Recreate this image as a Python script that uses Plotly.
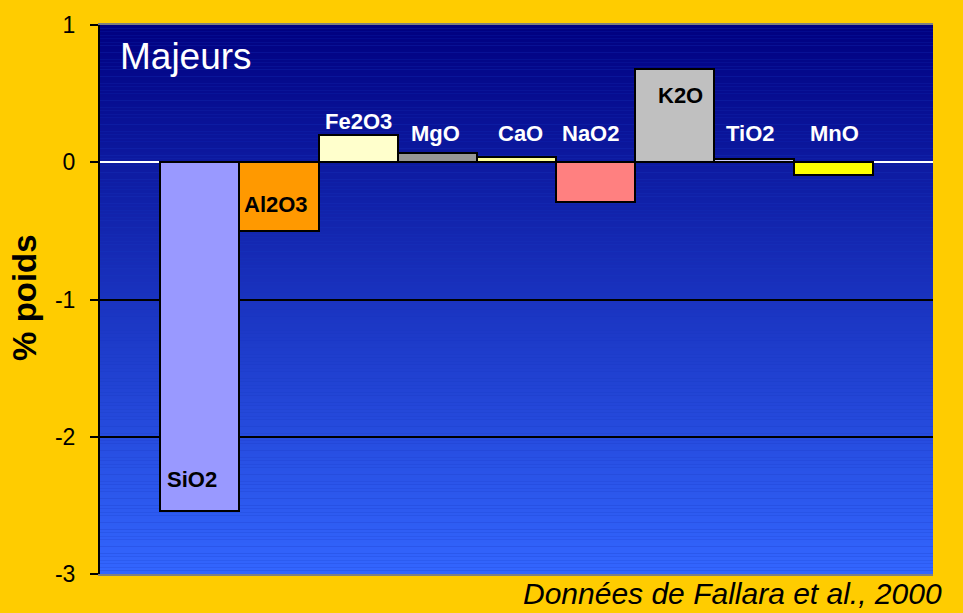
import plotly.graph_objects as go

# oxides (bar order) and change in weight percent
oxides = ["SiO2", "Al2O3", "Fe2O3", "MgO", "CaO", "NaO2", "K2O", "TiO2", "MnO"]
delta_wt = [-2.54, -0.50, 0.20, 0.065, 0.035, -0.29, 0.68, 0.022, -0.09]
bar_colors = ["#9999FF", "#FF9900", "#FFFFCC", "#969696", "#FFFF99",
              "#FF8080", "#C0C0C0", "#CCCCFF", "#FFFF00"]

y_ticks = [1, 0, -1, -2, -3]
y_tick_text = ["1", "0", "-1", "-2", "-3"]

# label placement (layout only): y position and text colour for each bar
label_y = [-2.31, -0.31, 0.30, 0.21, 0.21, 0.21, 0.49, 0.21, 0.21]
label_color = ["black", "black", "white", "white", "white",
               "white", "black", "white", "white"]
label_shift = [-8, -3, 0, -2, 4, -5, 6, -4, 1]

FONT = "Arial, Liberation Sans, sans-serif"

fig = go.Figure()
fig.add_trace(go.Bar(
    x=list(range(len(oxides))),
    y=delta_wt,
    marker=dict(color=bar_colors, line=dict(color="black", width=2)),
    width=1,
    hoverinfo="skip",
))

# gradient plot background: navy at top, bright blue at bottom
top = (0, 0, 128)
bottom = (51, 102, 255)
n_steps = 160
shapes = []
for i in range(n_steps):
    t = (i + 0.5) / n_steps
    c = tuple(round(top[k] + (bottom[k] - top[k]) * t) for k in range(3))
    shapes.append(dict(
        type="rect", xref="x domain", yref="y domain",
        x0=0, x1=1, y0=1 - (i + 1) / n_steps, y1=1 - i / n_steps,
        fillcolor="rgb(%d,%d,%d)" % c, line=dict(width=0), layer="below",
    ))

annotations = []
for i, name in enumerate(oxides):
    annotations.append(dict(
        x=i, y=label_y[i], xref="x", yref="y", text="<b>%s</b>" % name,
        showarrow=False, xshift=label_shift[i],
        font=dict(family=FONT, size=22, color=label_color[i]),
    ))

annotations += [
    dict(text="Majeurs", xref="x domain", yref="y domain", x=0.022, y=0.942,
         xanchor="left", yanchor="middle", showarrow=False,
         font=dict(family=FONT, size=37, color="white")),
    dict(text="<b>% poids</b>", xref="paper", yref="paper", x=-0.09, y=0.503,
         xanchor="center", yanchor="middle", textangle=-90, showarrow=False,
         font=dict(family=FONT, size=33, color="black")),
    dict(text="<i>Données de Fallara et al., 2000</i>", xref="paper", yref="paper",
         x=0.505, y=-0.036, xanchor="left", yanchor="middle", showarrow=False,
         font=dict(family=FONT, size=30, color="black")),
]

fig.update_layout(
    width=963, height=613,
    margin=dict(l=100, r=30, t=21, b=39),
    paper_bgcolor="#FFCC00",
    plot_bgcolor="#1A3AC0",
    bargap=0,
    showlegend=False,
    shapes=shapes,
    annotations=annotations,
    xaxis=dict(
        range=[-1.26, 9.26], showticklabels=False, ticks="", showgrid=False,
        zeroline=False, showline=True, linecolor="#808080", linewidth=2, mirror=True,
    ),
    yaxis=dict(
        range=[-3, 1], tickvals=y_ticks, ticktext=y_tick_text,
        ticks="outside", ticklen=8, tickwidth=2,
        tickcolor="black", ticklabelstandoff=10,
        tickfont=dict(family=FONT, size=23, color="black"),
        showgrid=True, gridcolor="black", gridwidth=1.5,
        zeroline=True, zerolinecolor="white", zerolinewidth=2,
        showline=True, linecolor="black", linewidth=2,
    ),
)

fig.write_html(
    "out.html",
    config={"displayModeBar": False},
    post_script="document.body.style.margin='0';document.body.style.overflow='hidden';",
)
